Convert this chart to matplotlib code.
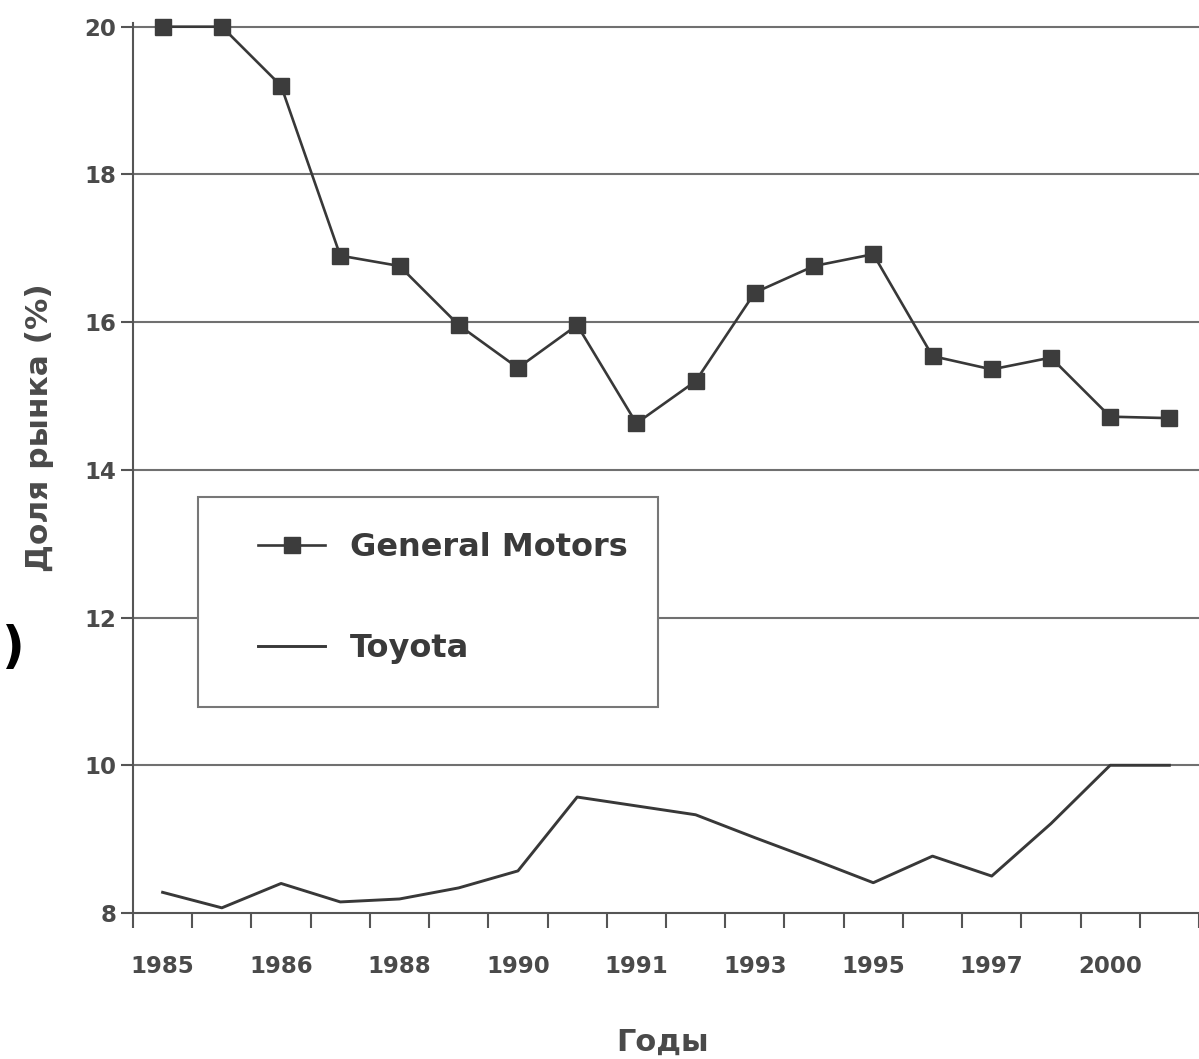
import matplotlib
matplotlib.use('Agg')
import matplotlib.pyplot as plt
from matplotlib.patches import Rectangle

# market share, %, 18 periods
gm_share = [20.0, 20.0, 19.2, 16.9, 16.76, 15.96, 15.38, 15.96, 14.63,
            15.2, 16.4, 16.76, 16.92, 15.54, 15.36, 15.52, 14.72, 14.7]
toyota_share = [8.28, 8.07, 8.40, 8.15, 8.19, 8.34, 8.57, 9.57, 9.45,
                9.33, 9.02, 8.72, 8.41, 8.77, 8.50, 9.21, 10.0, 10.0]
year_labels = ['1985', '1986', '1988', '1990', '1991', '1993', '1995', '1997', '2000']
y_ticks = [8, 10, 12, 14, 16, 18, 20]

W, H = 1199, 1059
fig = plt.figure(figsize=(W / 100, H / 100), dpi=100)
fig.patch.set_facecolor('white')
ax = fig.add_axes([133 / W, 146 / H, (W - 133) / W, 890 / H])

line_col = '#383838'
grid_col = '#707070'
text_col = '#4a4a4a'

x = list(range(len(gm_share)))
ax.plot(x, gm_share, color=line_col, lw=1.9, marker='s', ms=12,
        mfc='#3c3c3c', mec='#3c3c3c', label='General Motors', zorder=4, clip_on=False)
ax.plot(x, toyota_share, color=line_col, lw=2.1, label='Toyota', zorder=4)

ax.set_xlim(-0.5, -0.5 + (W - 133) / 60)
ax.set_ylim(8, 20.05)

for yv in y_ticks[1:]:
    ax.axhline(yv, color=grid_col, lw=1.5, zorder=1)

for s in ['top', 'right']:
    ax.spines[s].set_visible(False)
for s in ['left', 'bottom']:
    ax.spines[s].set_color('#555555')
    ax.spines[s].set_linewidth(1.5)

ax.set_xticks(range(0, len(gm_share), 2))
ax.set_xticklabels(year_labels)
ax.set_xticks([k - 0.5 for k in range(len(gm_share) + 1)], minor=True)
ax.tick_params(axis='x', which='major', length=0, pad=30)
ax.tick_params(axis='x', which='minor', length=11, width=1.5, color='#555555')
ax.set_yticks(y_ticks)
ax.tick_params(axis='y', length=9, width=1.5, color='#555555', pad=3)
for lab in ax.get_xticklabels() + ax.get_yticklabels():
    lab.set_fontsize(16.5)
    lab.set_fontweight('bold')
    lab.set_color(text_col)

# legend box
ax.add_patch(Rectangle((198 / W, (H - 707) / H), 460 / W, 210 / H,
                       transform=fig.transFigure, facecolor='white',
                       edgecolor='#777777', lw=1.5, zorder=3))
leg = ax.legend(loc='center left', bbox_to_anchor=(258 / W, (H - 598) / H),
                bbox_transform=fig.transFigure, frameon=False, borderpad=0,
                borderaxespad=0, handlelength=2.1, handletextpad=0.78,
                labelspacing=2.19, prop={'size': 23, 'weight': 'bold'}, numpoints=1)
leg.set_zorder(6)
for t in leg.get_texts():
    t.set_color('#3a3a3a')

fig.text(40 / W, 1 - 428 / H, 'Доля рынка (%)', rotation=90, ha='center', va='center',
         fontsize=22.5, fontweight='bold', color=text_col)
fig.text(663 / W, 1 - 1042 / H, 'Годы', ha='center', va='center',
         fontsize=22, fontweight='bold', color=text_col)
fig.text(2 / W, 1 - 648 / H, ')', ha='left', va='center', fontsize=36,
         fontweight='bold', color='black')

fig.savefig('out.png', dpi=100, facecolor='white')
